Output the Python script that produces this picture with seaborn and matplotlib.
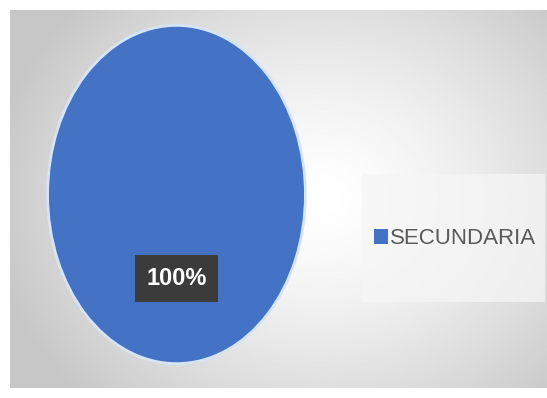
import numpy as np
import matplotlib
matplotlib.use("Agg")
import matplotlib.pyplot as plt
from matplotlib.patches import Rectangle
import seaborn as sns

categories = ["SECUNDARIA"]
values = [100]
pct_labels = ["100%"]

sns.set_theme(style="white")
plt.rcParams["font.family"] = ["Liberation Sans", "DejaVu Sans"]

W, H = 547, 398
fig = plt.figure(figsize=(W / 100, H / 100), dpi=100, facecolor="white")

# radial grey-to-white backdrop of the chart area
bg = fig.add_axes([10 / W, 10 / H, 537 / W, 378 / H])
gx, gy = np.meshgrid(np.linspace(0, 1, 400), np.linspace(0, 1, 300))
d = np.sqrt(((gx - 0.58) / 0.62) ** 2 + ((gy - 0.5) / 0.75) ** 2)
shade = np.clip(1.0 - 0.22 * d ** 1.4, 0.78, 1.0)
bg.imshow(shade, cmap="gray", vmin=0, vmax=1, aspect="auto", origin="lower")
bg.set_axis_off()

# pale panel behind the legend
fig.patches.append(Rectangle((362 / W, 1 - 302 / H), 183 / W, 128 / H,
                             transform=fig.transFigure, facecolor="#f6f6f6",
                             edgecolor="none", alpha=0.75, zorder=1))

# pie drawn in its own axes, stretched vertically
ax = fig.add_axes([45 / W, 31 / H, 263 / W, 345 / H])
ax.set_axis_off()
palette = ["#4472C4"]
wedges, _ = ax.pie(values, colors=palette, startangle=90, counterclock=False,
                   wedgeprops=dict(edgecolor="#d6e4f7", linewidth=2))
ax.set_aspect("auto")
ax.set_xlim(-1.02, 1.02)
ax.set_ylim(-1.02, 1.02)

ax.text(0, -0.496, pct_labels[0], ha="center", va="center", color="white",
        fontsize=17, fontweight="bold",
        bbox=dict(boxstyle="square,pad=0.5", facecolor="#3b3b3b", edgecolor="none"))

leg = fig.legend(wedges, categories, loc="center left",
                 bbox_to_anchor=(372 / W, 1 - 239 / H), frameon=False,
                 fontsize=16, handlelength=0.62, handleheight=0.62,
                 handletextpad=0.1, borderpad=0.1, borderaxespad=0.0,
                 labelcolor="#595959")
for h in leg.legend_handles:
    h.set_edgecolor("none")

fig.savefig("out.png", dpi=100, facecolor="white")
